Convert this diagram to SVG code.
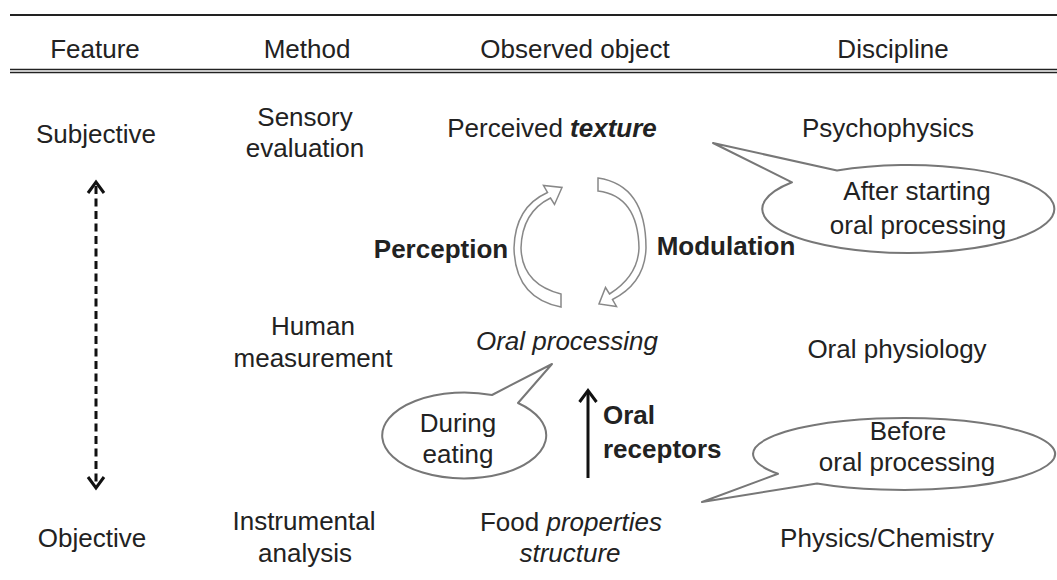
<svg xmlns="http://www.w3.org/2000/svg" width="1057" height="580" viewBox="0 0 1057 580">
<style>
text{font-family:"Liberation Sans",Arial,sans-serif;font-size:26px;fill:#222;text-anchor:middle}
.b{font-weight:bold}
.i{font-style:italic}
.bi{font-weight:bold;font-style:italic}
.l{text-anchor:start}
.rule{stroke:#222;fill:none}
.bubble{fill:#fff;stroke:#777;stroke-width:2;stroke-linejoin:round}
.cyc{fill:#fff;stroke:#888;stroke-width:1.5;stroke-linejoin:miter}
.conn{stroke:#111;fill:none;stroke-width:3}
</style>
<rect width="1057" height="580" fill="#fff"/>
<g id="table-rules">
<line class="rule" x1="10" y1="15" x2="1057" y2="15" stroke-width="2"/>
<line class="rule" x1="10" y1="69.5" x2="1057" y2="69.5" stroke-width="1.5" stroke="#555"/>
<line class="rule" x1="10" y1="72.5" x2="1057" y2="72.5" stroke-width="1.5" stroke="#666"/>
</g>
<g id="header">
<text x="95" y="58">Feature</text>
<text x="307" y="58">Method</text>
<text x="575" y="58">Observed object</text>
<text x="893" y="58">Discipline</text>
</g>
<g id="subjective"><text x="96" y="143">Subjective</text></g>
<g id="objective"><text x="92" y="547">Objective</text></g>
<g id="sensory-evaluation"><text x="305" y="126">Sensory</text><text x="305" y="157">evaluation</text></g>
<g id="human-measurement"><text x="313" y="335">Human</text><text x="313" y="367">measurement</text></g>
<g id="instrumental-analysis"><text x="304" y="530">Instrumental</text><text x="305" y="562">analysis</text></g>
<g id="perceived-texture"><text x="552" y="137">Perceived <tspan class="bi">texture</tspan></text></g>
<g id="oral-processing"><text class="i" x="567" y="350">Oral processing</text></g>
<g id="food-properties"><text x="571" y="531">Food <tspan class="i">properties</tspan></text><text class="i" x="570" y="562">structure</text></g>
<g id="psychophysics"><text x="888" y="137">Psychophysics</text></g>
<g id="oral-physiology"><text x="897" y="358">Oral physiology</text></g>
<g id="physics-chemistry"><text x="887" y="547">Physics/Chemistry</text></g>
<g id="perception-label"><text class="b" x="441" y="258">Perception</text></g>
<g id="modulation-label"><text class="b" x="726" y="255">Modulation</text></g>
<g id="oral-receptors-label"><text class="b l" x="603" y="424">Oral</text><text class="b l" x="603" y="458">receptors</text></g>
<g id="bubble-after">
<path class="bubble" d="M792,182.3 A146 44 0 1 0 837,170.5 L713,143 Z"/>
<text x="917" y="200">After starting</text>
<text x="918" y="234">oral processing</text>
</g>
<g id="bubble-during">
<path class="bubble" d="M518,403 A82 43 0 1 1 492,395 L552,364 Z"/>
<text x="458" y="432">During</text>
<text x="458" y="463">eating</text>
</g>
<g id="bubble-before">
<path class="bubble" d="M778,473.8 A151 36 0 1 1 817,483.4 L702,502 Z"/>
<text x="908" y="440">Before</text>
<text x="907" y="471">oral processing</text>
</g>
<g id="connectors">
<path class="cyc" d="M561,307 Q515,298 514,248 Q515,207 547.5,192.5 L543.5,185.5 L562,187.5 L554.5,204.5 L550.5,198 Q522,212 521,248 Q522,284 561,294 Z"/>
<path class="cyc" d="M598,178 Q646,185 646,248 Q645,283 612.5,299.5 L616.5,306.5 L599,304 L605.5,287.5 L609.5,294 Q638,276 639,248 Q638,196 598,191 Z"/>
<line class="conn" x1="96" y1="186" x2="96" y2="484" stroke-dasharray="8,4.5"/>
<polyline class="conn" points="88,193 96,182 104,193" stroke-width="3.5"/>
<polyline class="conn" points="88,477 96,488 104,477" stroke-width="3.5"/>
<line class="conn" x1="588" y1="478" x2="588" y2="392"/>
<polyline class="conn" points="579.5,402 588,390.5 596.5,402" stroke-width="3.5"/>
</g>
</svg>
